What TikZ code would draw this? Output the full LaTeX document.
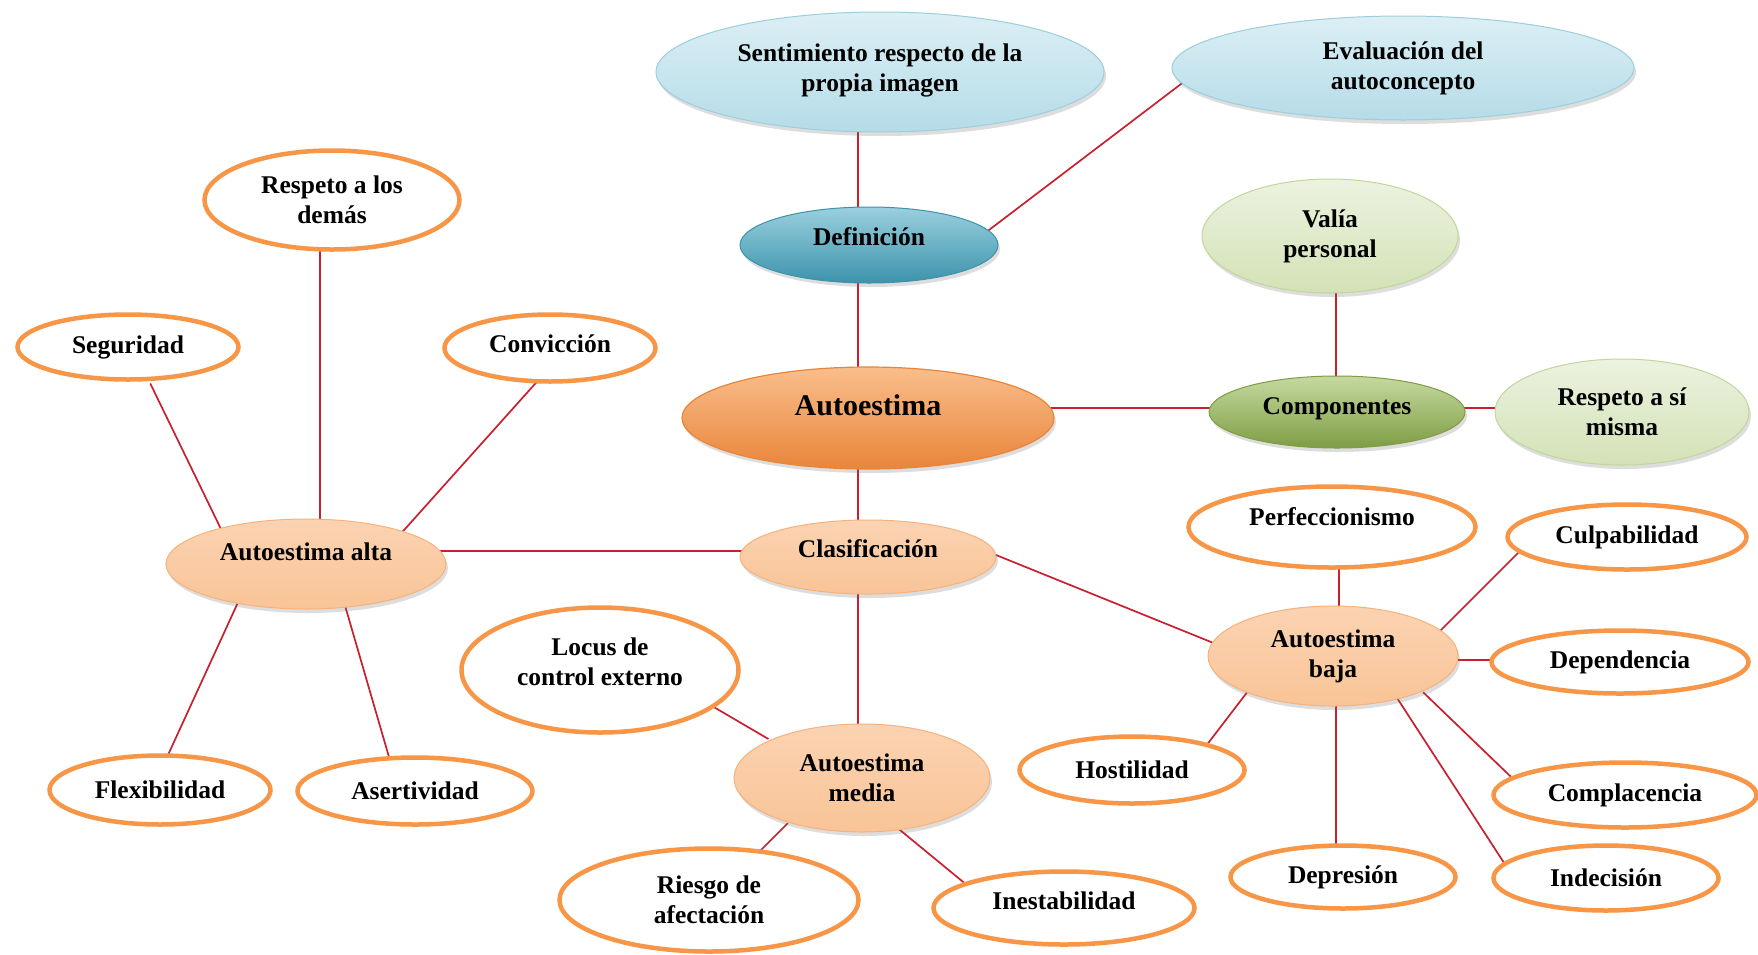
\documentclass[tikz,border=0pt]{standalone}
\usepackage{fontspec}
\setmainfont{Liberation Serif}
\usetikzlibrary{shapes.geometric,backgrounds,shadows}
\definecolor{lineR}{HTML}{C8202E}
\definecolor{orangeL}{HTML}{F79646}
\definecolor{peachB}{HTML}{F6B27C}
\definecolor{peachT}{HTML}{FBD3B2}
\definecolor{peachM}{HTML}{FDE8D8}
\definecolor{peachD}{HTML}{F9C497}
\definecolor{blueT}{HTML}{DCEFF5}
\definecolor{blueD}{HTML}{B5DCE8}
\definecolor{blueB}{HTML}{9CCEDD}
\definecolor{tealT}{HTML}{9AD0DF}
\definecolor{tealM}{HTML}{4EADC7}
\definecolor{tealD}{HTML}{3C93AB}
\definecolor{greenT}{HTML}{C6D9A0}
\definecolor{greenM}{HTML}{9BBB59}
\definecolor{greenD}{HTML}{7E9D44}
\definecolor{lgreenT}{HTML}{ECF2E0}
\definecolor{lgreenD}{HTML}{D3E2B6}
\definecolor{lgreenB}{HTML}{C2D69B}
\definecolor{autoT}{HTML}{F9BE8C}
\definecolor{autoM}{HTML}{F79646}
\definecolor{autoD}{HTML}{E9853A}
\tikzset{
  ebase/.style={ellipse, inner sep=0pt, align=center, text=black,
    font=\bfseries\fontsize{25.5}{30}\selectfont},
  shad/.style={drop shadow={shadow xshift=2pt, shadow yshift=-4pt, opacity=0.22, fill=black!60}},
  leaf/.style={ebase, draw=orangeL, line width=4.5pt, fill=white},
  peach/.style={ebase, shad, draw=peachB, line width=1pt, top color=peachT, middle color=peachM, bottom color=peachD},
  lblue/.style={ebase, shad, draw=blueB, line width=1pt, top color=blueT, bottom color=blueD},
  teal/.style={ebase, shad, draw=tealD, line width=1pt, top color=tealT, middle color=tealM, bottom color=tealD},
  lgreen/.style={ebase, shad, draw=lgreenB, line width=1pt, top color=lgreenT, bottom color=lgreenD},
  dgreen/.style={ebase, shad, draw=greenD, line width=1pt, top color=greenT, middle color=greenM, bottom color=greenD},
  core/.style={ebase, shad, draw=autoD, line width=1.2pt, top color=autoT, middle color=autoM, bottom color=autoD,
    font=\bfseries\fontsize{30}{34}\selectfont},
  conn/.style={draw=lineR, line width=1.7pt},
  conx/.style={conn, shorten <=-4pt, shorten >=-4pt}
}
\begin{document}
\begin{tikzpicture}[x=1pt,y=-1pt]
\useasboundingbox (0,0) rectangle (1758,954);
% main chain
\node[lblue, minimum width=448pt, minimum height=120pt] (sent) at (880,72) {Sentimiento respecto de la\\propia imagen\\[-21pt]\mbox{}};
\node[lblue, minimum width=462pt, minimum height=104pt] (eval) at (1403,68) {Evaluación del\\autoconcepto};
\node[teal, minimum width=258pt, minimum height=76pt, text height=8.8pt, text depth=8pt] (def) at (869,245) {Definición};
\node[lgreen, minimum width=256pt, minimum height=114pt] (valia) at (1330,236) {Valía\\personal};
\node[core, minimum width=372pt, minimum height=102pt, text height=5pt, text depth=11pt] (auto) at (868,418) {Autoestima};
\node[dgreen, minimum width=256pt, minimum height=72pt, text height=10.8pt, text depth=6pt] (comp) at (1337,412) {Componentes};
\node[lgreen, minimum width=254pt, minimum height=106pt] (resp) at (1622,412) {Respeto a sí\\misma};
\node[peach, minimum width=256pt, minimum height=74pt, text height=8.8pt, text depth=8pt] (clas) at (868,557) {Clasificación};
\node[peach, minimum width=280pt, minimum height=90pt, text height=4.8pt, text depth=12pt] (alta) at (306,564) {Autoestima alta};
\node[peach, minimum width=256pt, minimum height=108pt] (media) at (862,778) {Autoestima\\media};
\node[peach, minimum width=250pt, minimum height=100pt] (baja) at (1333,656) {Autoestima\\baja};
% leaves
\node[leaf, minimum width=255pt, minimum height=99pt] (demas) at (332,200) {Respeto a los\\demás};
\node[leaf, minimum width=221pt, minimum height=65pt] (seg) at (128,347) {Seguridad};
\node[leaf, minimum width=211pt, minimum height=67pt, text height=12.8pt, text depth=4pt] (conv) at (550,348) {Convicción};
\node[leaf, minimum width=221pt, minimum height=69pt] (flex) at (160,790) {Flexibilidad};
\node[leaf, minimum width=235pt, minimum height=67pt] (aser) at (415,791) {Asertividad};
\node[leaf, minimum width=277pt, minimum height=125pt] (locus) at (600,670) {Locus de\\control externo\\[-13pt]\mbox{}};
\node[leaf, minimum width=299pt, minimum height=103pt] (riesgo) at (709,900) {Riesgo de\\afectación};
\node[leaf, minimum width=261pt, minimum height=73pt, text height=9.8pt, text depth=7pt] (inest) at (1064,908) {Inestabilidad};
\node[leaf, minimum width=287pt, minimum height=81pt, text height=6.8pt, text depth=10pt] (perf) at (1332,527) {Perfeccionismo};
\node[leaf, minimum width=239pt, minimum height=65pt] (culp) at (1627,537) {Culpabilidad};
\node[leaf, minimum width=257pt, minimum height=63pt] (dep) at (1620,662) {Dependencia};
\node[leaf, minimum width=225pt, minimum height=67pt] (host) at (1132,770) {Hostilidad};
\node[leaf, minimum width=263pt, minimum height=65pt] (compl) at (1625,795) {Complacencia};
\node[leaf, minimum width=225pt, minimum height=63pt] (depr) at (1343,877) {Depresión};
\node[leaf, minimum width=225pt, minimum height=65pt] (indec) at (1606,878) {Indecisión};
\begin{pgfonlayer}{background}
\fill[white] (0,0) rectangle (1758,954);
\draw[conn] ([shift={(-22,0)}]sent.center) -- ([shift={(-11,0)}]def.center);
\draw[conx] ([shift={(120,-15)}]def.center) -- ([shift={(-222,16)}]eval.center);
\draw[conn] ([shift={(-11,0)}]def.center) -- ([shift={(-10,0)}]auto.center);
\draw[conn] ([shift={(0,-10)}]auto.center) -- ([shift={(0,-4)}]comp.center);
\draw[conn] ([shift={(-1,0)}]comp.center) -- ([shift={(6,0)}]valia.center);
\draw[conn] ([shift={(0,-4)}]comp.center) -- ([shift={(0,-4)}]resp.center);
\draw[conn] ([shift={(-10,0)}]auto.center) -- ([shift={(-10,0)}]clas.center);
\draw[conn] ([shift={(0,-6)}]clas.center) -- ([shift={(0,-13)}]alta.center);
\draw[conn] ([shift={(-10,0)}]clas.center) -- ([shift={(-4,0)}]media.center);
\draw[conx] ([shift={(128,-2)}]clas.center) -- ([shift={(-122,-14)}]baja.center);
% alta
\draw[conn] ([shift={(14,0)}]alta.center) -- ([shift={(-12,0)}]demas.center);
\draw[conx] ([shift={(-86,-37)}]alta.center) -- ([shift={(24,40)}]seg.center);
\draw[conx] ([shift={(99,-35)}]alta.center) -- ([shift={(-16,37)}]conv.center);
\draw[conx] ([shift={(-66,34)}]alta.center) -- ([shift={(8,-35)}]flex.center);
\draw[conx] ([shift={(40,45)}]alta.center) -- ([shift={(-26,-34)}]aser.center);
% media
\draw[conx] ([shift={(-97,-41)}]media.center) -- ([shift={(112,36)}]locus.center);
\draw[conx] ([shift={(-77,48)}]media.center) -- ([shift={(53,-51)}]riesgo.center);
\draw[conx] ([shift={(38,52)}]media.center) -- ([shift={(-102,-27)}]inest.center);
% baja
\draw[conn] ([shift={(6,0)}]baja.center) -- ([shift={(7,0)}]perf.center);
\draw[conx] ([shift={(107,-25)}]baja.center) -- ([shift={(-111,18)}]culp.center);
\draw[conn] ([shift={(0,4)}]baja.center) -- ([shift={(0,-2)}]dep.center);
\draw[conx] ([shift={(-88,39)}]baja.center) -- ([shift={(77,-28)}]host.center);
\draw[conn] ([shift={(3,0)}]baja.center) -- ([shift={(-7,0)}]depr.center);
\draw[conx] ([shift={(93,39)}]baja.center) -- ([shift={(-117,-21)}]compl.center);
\draw[conx] ([shift={(66,45)}]baja.center) -- ([shift={(-98,-9)}]indec.center);
\end{pgfonlayer}
\end{tikzpicture}
\end{document}
